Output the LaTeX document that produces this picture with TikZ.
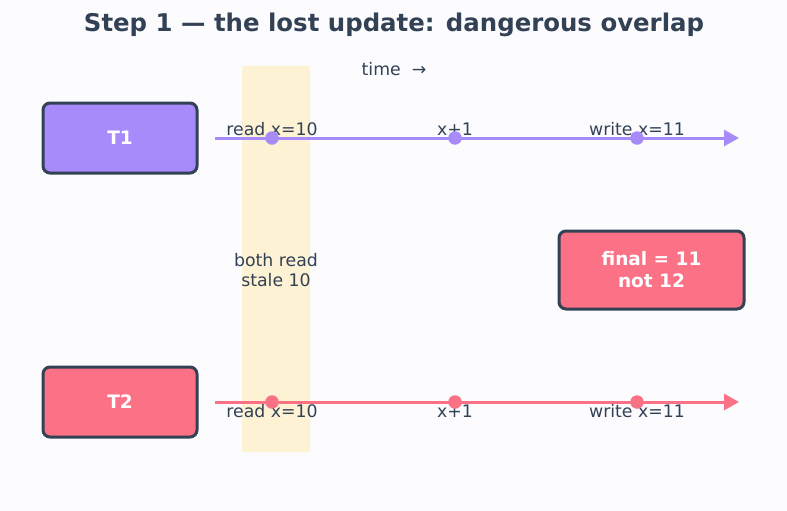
\documentclass[tikz,border=0pt]{standalone}
\usepackage{fontspec}
\setmainfont{DejaVu Sans}
\usetikzlibrary{arrows.meta, positioning}
\definecolor{ink}{HTML}{334155}
\definecolor{lilac}{HTML}{A78BFA}
\definecolor{rose}{HTML}{FB7185}
\definecolor{sand}{HTML}{FDF3D4}
\definecolor{paper}{HTML}{FCFCFF}

\begin{document}
\begin{tikzpicture}[x=1pt, y=-1pt,
  txbox/.style={draw=ink, line width=3pt, rounded corners=7pt,
    minimum width=154pt, minimum height=70pt, text=white,
    font=\fontsize{18.5}{22}\selectfont\bfseries},
  evdot/.style={circle, inner sep=0pt, minimum size=13.5pt},
  evlabel/.style={font=\fontsize{17.3}{20}\selectfont, text=ink, inner sep=0pt}]

  % Canvas
  \fill[paper] (0,0) rectangle (787,511);
  \useasboundingbox (0,0) rectangle (787,511);

  % Overlap band
  \fill[sand, rounded corners=2pt] (242,66) rectangle (310,452);

  % Title
  \node[font=\fontsize{24.4}{28}\selectfont\bfseries, text=ink] (title) at (394,25)
    {Step 1 — the lost update: dangerous overlap};
  \node[evlabel] (time) at (394,69) {time~~→};

  % Transactions
  \node[txbox, fill=lilac] (T1) at (120,138) {T1};
  \node[txbox, fill=rose] (T2) at (120,402) {T2};

  % Timelines
  \foreach \row/\col/\y/\dy in {T1/lilac/138/-2.5, T2/rose/402/15} {
    \coordinate (\row s) at (215,\y);
    \coordinate (\row e) at (739,\y);
    \foreach \x/\ev/\txt in {272/r/read x=10, 455/a/x+1, 637/w/write x=11} {
      \node[evlabel, anchor=base] (\row-\ev-lbl) at (\x,\y+\dy) {\txt};
    }
    \draw[\col, line width=3pt, -{Triangle[length=15pt, width=16pt]}] (\row s) -- (\row e);
    \foreach \x/\ev in {272/r, 455/a, 637/w} {
      \node[evdot, fill=\col] (\row-\ev) at (\x,\y) {};
    }
  }

  % Annotations
  \node[evlabel, align=center] (stale) at (276,270) {both read\\stale 10};
  \node[txbox, fill=rose, minimum width=185pt, minimum height=78pt, align=center]
    (final) at (651.5,270) {final = 11\\not 12};

\end{tikzpicture}
\end{document}
